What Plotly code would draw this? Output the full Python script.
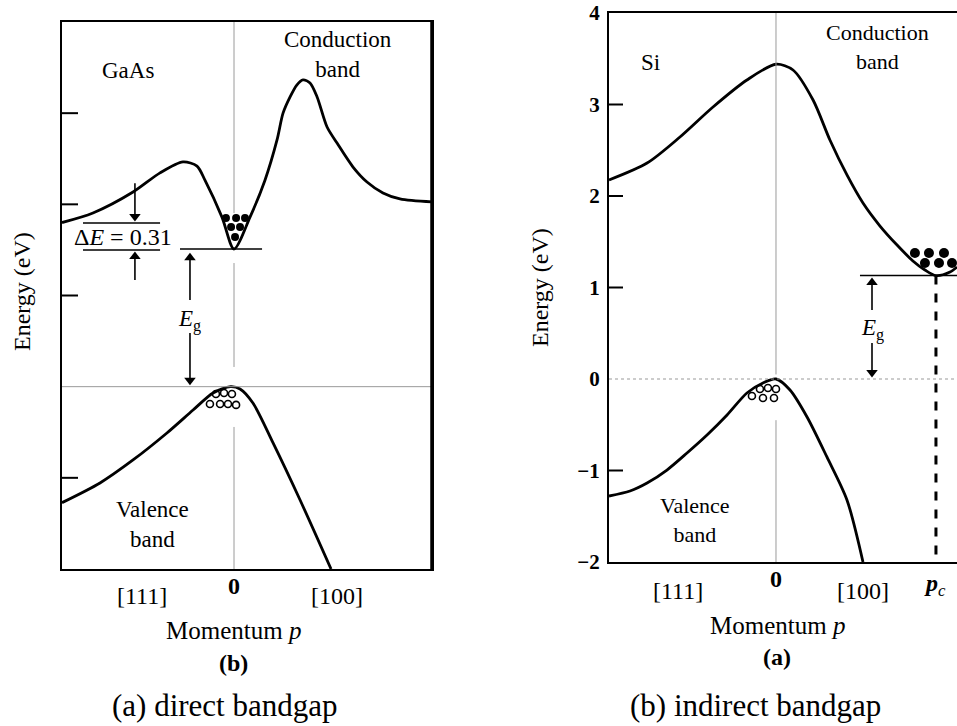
import plotly.graph_objects as go

W, H = 957, 726

# ---------------- data: GaAs (direct bandgap) ----------------
gaas_cb_p = [-1.0, -0.82, -0.587, -0.43, -0.297, -0.215, -0.169, -0.07, 0.0, 0.093, 0.18, 0.25,
             0.285, 0.326, 0.366, 0.401, 0.442, 0.483, 0.541, 0.599, 0.692, 0.773, 0.866, 0.965, 1.151]
gaas_cb_E = [1.80, 1.905, 2.135, 2.345, 2.465, 2.42, 2.265, 1.86, 1.51, 1.86, 2.265, 2.706,
             3.0, 3.178, 3.31, 3.364, 3.331, 3.178, 2.848, 2.672, 2.409, 2.245, 2.125, 2.059, 2.026]
gaas_vb_p = [-1.0, -0.779, -0.587, -0.39, -0.238, -0.122, -0.02, 0.035, 0.11, 0.227, 0.384, 0.564]
gaas_vb_E = [-1.272, -1.056, -0.804, -0.508, -0.256, -0.069, 0.0, -0.025, -0.179, -0.617, -1.243, -2.0]
gaas_el_p = [-0.047, 0.012, 0.064, -0.017, 0.035, 0.006]
gaas_el_E = [1.85, 1.85, 1.85, 1.752, 1.752, 1.642]
gaas_h_p = [-0.105, -0.058, -0.012, -0.14, -0.081, -0.035, 0.012]
gaas_h_E = [-0.08, -0.069, -0.08, -0.19, -0.19, -0.19, -0.2]
gaas_Ec = 1.51
gaas_L = 1.795          # side valley level (ΔE top line)
gaas_ticks = [-1, 1, 2, 3]
# arrows: (p, E_head, E_tail)
gaas_arrows = [(-0.576, 1.817, 2.232), (-0.576, 1.477, 1.17),
               (-0.256, 1.465, 0.95), (-0.256, 0.02, 0.59)]

# ---------------- data: Si (indirect bandgap) ----------------
si_cb_p = [-1.0, -0.772, -0.575, -0.377, -0.174, 0.0, 0.102, 0.222, 0.323, 0.425, 0.521, 0.623,
           0.725, 0.82, 0.892, 0.958, 1.042, 1.084]
si_cb_E = [2.175, 2.36, 2.645, 2.973, 3.268, 3.44, 3.377, 3.049, 2.612, 2.23, 1.923, 1.672,
           1.464, 1.29, 1.191, 1.13, 1.169, 1.224]
si_vb_p = [-1.0, -0.874, -0.772, -0.653, -0.533, -0.413, -0.293, -0.174, -0.078, 0.0, 0.084,
           0.186, 0.305, 0.425, 0.521]
si_vb_E = [-1.279, -1.224, -1.137, -0.995, -0.809, -0.612, -0.393, -0.153, -0.044, 0.0, -0.12,
           -0.415, -0.852, -1.322, -2.0]
si_el_p = [0.832, 0.916, 1.006, 0.892, 0.976, 1.054]
si_el_E = [1.377, 1.377, 1.377, 1.268, 1.268, 1.268]
si_h_p = [-0.096, -0.048, 0.0, -0.144, -0.078, -0.012]
si_h_E = [-0.109, -0.098, -0.109, -0.186, -0.208, -0.208]
si_Ec = 1.13
si_pc = 0.958
si_ticks = [-2, -1, 0, 1, 2, 3, 4]
si_tickmarks = [-1, 1, 2, 3]
si_arrows = [(0.575, 1.104, 0.754), (0.575, 0.022, 0.393)]

# x tick labels
xlabels = ["[111]", "0", "[100]"]

SERIF = "Liberation Serif, Times New Roman, Times, serif"
GRAY = "#9a9a9a"
HEAD = 0.05   # half arrow-head height in eV


def P(px, py):
    return px / W, 1 - py / H


fig = go.Figure()

# curves
line = dict(color="black", width=2.8, shape="spline", smoothing=0.8)
fig.add_trace(go.Scatter(x=gaas_cb_p, y=gaas_cb_E, mode="lines", line=line, xaxis="x", yaxis="y"))
fig.add_trace(go.Scatter(x=gaas_vb_p, y=gaas_vb_E, mode="lines", line=line, xaxis="x", yaxis="y"))
fig.add_trace(go.Scatter(x=si_cb_p, y=si_cb_E, mode="lines", line=line, xaxis="x2", yaxis="y2"))
fig.add_trace(go.Scatter(x=si_vb_p, y=si_vb_E, mode="lines", line=line, xaxis="x2", yaxis="y2"))

# electrons / holes
fig.add_trace(go.Scatter(x=gaas_el_p, y=gaas_el_E, mode="markers",
                         marker=dict(color="black", size=8), xaxis="x", yaxis="y"))
fig.add_trace(go.Scatter(x=gaas_h_p, y=gaas_h_E, mode="markers",
                         marker=dict(symbol="circle-open", color="black", size=7, line=dict(width=1.6)),
                         xaxis="x", yaxis="y"))
fig.add_trace(go.Scatter(x=si_el_p, y=si_el_E, mode="markers",
                         marker=dict(color="black", size=10), xaxis="x2", yaxis="y2"))
fig.add_trace(go.Scatter(x=si_h_p, y=si_h_E, mode="markers",
                         marker=dict(symbol="circle-open", color="black", size=7, line=dict(width=1.6)),
                         xaxis="x2", yaxis="y2"))

# arrows (shaft + triangular head)
for arrows, xa, ya in [(gaas_arrows, "x", "y"), (si_arrows, "x2", "y2")]:
    for p, eh, et in arrows:
        up = eh > et
        ec = eh - HEAD if up else eh + HEAD
        fig.add_trace(go.Scatter(x=[p, p], y=[et, ec], mode="lines",
                                 line=dict(color="black", width=1.6), xaxis=xa, yaxis=ya))
        fig.add_trace(go.Scatter(x=[p], y=[ec], mode="markers",
                                 marker=dict(symbol="triangle-up" if up else "triangle-down",
                                             size=10, color="black"),
                                 xaxis=xa, yaxis=ya))

shapes = []


def seg(xr, yr, x0, y0, x1, y1, color="black", width=1.5, dash="solid"):
    shapes.append(dict(type="line", xref=xr, yref=yr, x0=x0, y0=y0, x1=x1, y1=y1,
                       line=dict(color=color, width=width, dash=dash), layer="above"))


# gray reference lines (left)
seg("x", "y", 0, 4, 0, 1.905, GRAY, 1)
seg("x", "y", 0, 1.356, 0, 0.216, GRAY, 1)
seg("x", "y", 0, -0.442, 0, -2, GRAY, 1)
seg("x", "y", -1, 0, 1.151, 0, GRAY, 1)
# gray reference lines (right)
seg("x2", "y2", 0, 4, 0, 0.05, GRAY, 1)
seg("x2", "y2", 0, -0.45, 0, -2, GRAY, 1)
seg("x2", "y2", -1, 0, 1.084, 0, GRAY, 1.2, "dot")

# level lines
seg("x", "y", -0.314, gaas_Ec, 0.163, gaas_Ec)
seg("x", "y", -0.878, gaas_L, -0.43, gaas_L)
seg("x", "y", -0.878, gaas_Ec - 0.01, -0.43, gaas_Ec - 0.01)
seg("x2", "y2", 0.503, si_Ec, 1.084, si_Ec)
seg("x2", "y2", si_pc, si_Ec, si_pc, -2, "black", 3, "dash")

# axis tick marks
for e in gaas_ticks:
    seg("x domain", "y", 0, e, 16 / 370, e, "black", 2)
for e in si_tickmarks:
    seg("x2 domain", "y2", 0, e, 14 / 348, e, "black", 2)
# heavier right border of left panel
seg("x domain", "y domain", 1, 0, 1, 1, "black", 3.5)

annotations = []


def txt(xr, yr, x, y, s, size=23, **kw):
    annotations.append(dict(xref=xr, yref=yr, x=x, y=y, text=s, showarrow=False,
                            font=dict(family=SERIF, size=size, color="black"),
                            xanchor="center", yanchor="middle", **kw))


# in-plot labels left
txt("x", "y", -0.616, 3.47, "GaAs", 23)
txt("x", "y", 0.605, 3.64, "Conduction<br>band", 23)
txt("x", "y", -0.471, -1.51, "Valence<br>band", 23)
txt("x", "y", -0.645, 1.64, "Δ<i>E</i> = 0.31", 24)
txt("x", "y", -0.256, 0.73, "<i>E</i><sub>g</sub>", 23)
# in-plot labels right
txt("x2", "y2", -0.754, 3.464, "Si", 23)
txt("x2", "y2", 0.605, 3.63, "Conduction<br>band", 22)
txt("x2", "y2", -0.485, -1.54, "Valence<br>band", 22)
txt("x2", "y2", 0.575, 0.536, "<i>E</i><sub>g</sub>", 23)

# outside labels left
for (px, py), s in zip([(142, 596), (234, 586), (337, 596)], xlabels):
    x, y = P(px, py)
    txt("paper", "paper", x, y, "<b>0</b>" if s == "0" else s, 24)
x, y = P(233, 630); txt("paper", "paper", x, y, "Momentum <i>p</i>", 25)
x, y = P(233, 663); txt("paper", "paper", x, y, "<b>(b)</b>", 24)
x, y = P(22, 292); txt("paper", "paper", x, y, "Energy (eV)", 24, textangle=-90)
x, y = P(225, 705); txt("paper", "paper", x, y, "(a) direct bandgap", 31)
# outside labels right
for (px, py), s in zip([(678, 591), (776, 579), (863, 591)], xlabels):
    x, y = P(px, py)
    txt("paper", "paper", x, y, "<b>0</b>" if s == "0" else s, 24)
x, y = P(935, 585); txt("paper", "paper", x, y, "<b><i>p</i></b><sub><i>c</i></sub>", 24)
x, y = P(777, 625); txt("paper", "paper", x, y, "Momentum <i>p</i>", 25)
x, y = P(777, 657); txt("paper", "paper", x, y, "<b>(a)</b>", 24)
x, y = P(540, 288); txt("paper", "paper", x, y, "Energy (eV)", 24, textangle=-90)
x, y = P(755, 705); txt("paper", "paper", x, y, "(b) indirect bandgap", 31)

common = dict(showgrid=False, zeroline=False, showline=True, linecolor="black", linewidth=2,
              automargin=False, fixedrange=True)

fig.update_layout(
    width=W, height=H, autosize=False, showlegend=False,
    margin=dict(l=0, r=0, t=0, b=0, pad=0, autoexpand=False),
    paper_bgcolor="white", plot_bgcolor="white",
    shapes=shapes, annotations=annotations,
    xaxis=dict(domain=[62 / W, 432 / W], range=[-1, 1.151], showticklabels=False, ticks="",
               mirror=True, **common),
    yaxis=dict(domain=[1 - 569 / H, 1 - 22 / H], range=[-2, 4], showticklabels=False, ticks="",
               mirror=True, **common),
    xaxis2=dict(domain=[609 / W, 1.0], range=[-1, 1.084], showticklabels=False, ticks="",
                mirror=True, anchor="y2", **common),
    yaxis2=dict(domain=[1 - 562 / H, 1 - 13 / H], range=[-2, 4], tickvals=si_ticks, ticks="",
                mirror=False, anchor="x2", ticklabelstandoff=3,
                tickfont=dict(family=SERIF, size=21, color="black", weight="bold"), **common),
)

fig.write_html("out.html")
